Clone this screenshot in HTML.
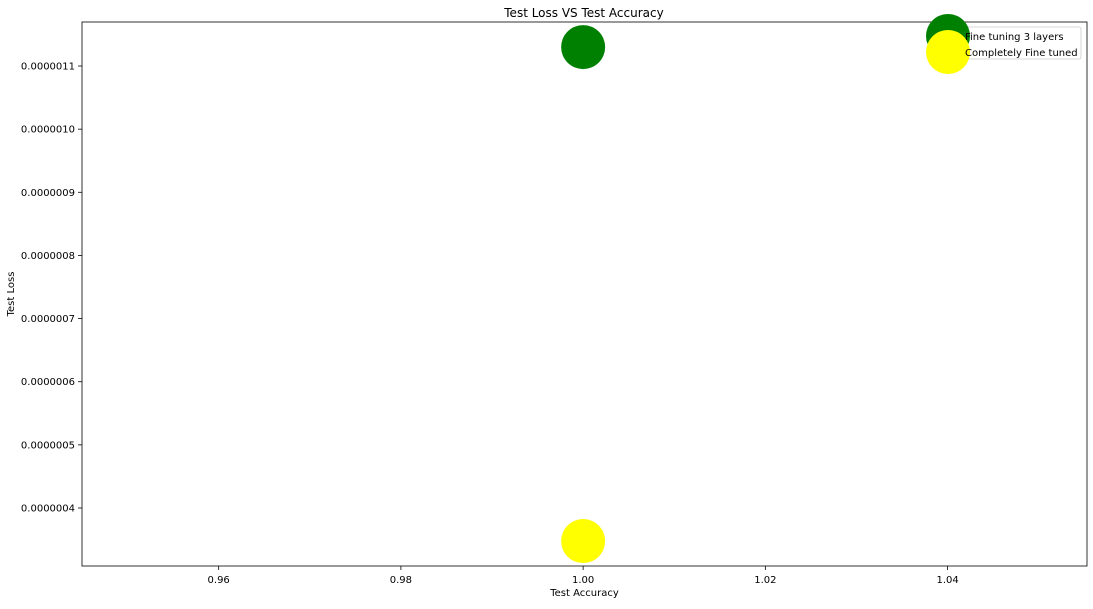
<!DOCTYPE html>
<html><head><meta charset="utf-8"><style>
body{margin:0;background:#fff;}
text{font-family:"DejaVu Sans","Liberation Sans",sans-serif;fill:#000;}
</style></head><body>
<svg id="chart" width="1093" height="604" xmlns="http://www.w3.org/2000/svg"></svg>
<script>
const seriesNames=["Fine tuning 3 layers","Completely Fine tuned"];
const seriesColors=["green","yellow"];
const accuracies=[1.0,1.0];
const losses=[1.130e-6,3.477e-7];
const xTicks=[0.96,0.98,1.00,1.02,1.04];
const xTickLabels=["0.96","0.98","1.00","1.02","1.04"];
const yTicks=[4e-7,5e-7,6e-7,7e-7,8e-7,9e-7,1e-6,1.1e-6];
const yTickLabels=["0.0000004","0.0000005","0.0000006","0.0000007","0.0000008","0.0000009","0.0000010","0.0000011"];
const L=82,R=1087,T=22,B=566;
const x0=0.945,x1=1.0553,y0=3.0814e-7,y1=1.1697e-6;
const sx=v=>L+(v-x0)/(x1-x0)*(R-L);
const sy=v=>B-(v-y0)/(y1-y0)*(B-T);
const svg=document.getElementById('chart');
const NS="http://www.w3.org/2000/svg";
function mk(t,a,p){const e=document.createElementNS(NS,t);for(const k in a)e.setAttribute(k,a[k]);(p||svg).appendChild(e);return e;}
let t=mk('text',{x:584,y:17,'text-anchor':'middle','font-size':12});t.textContent="Test Loss VS Test Accuracy";


xTicks.forEach((v,i)=>{const x=sx(v);
 const l=mk('line',{x1:x,x2:x,y1:B,y2:B+4,stroke:'#000','stroke-width':0.8});
 
 
 const tx=mk('text',{x:x,y:B+17,'text-anchor':'middle','font-size':10});tx.textContent=xTickLabels[i];
 
 
});
yTicks.forEach((v,i)=>{const y=sy(v);
 const l=mk('line',{x1:L-4,x2:L,y1:y,y2:y,stroke:'#000','stroke-width':0.8});
 
 
 const tx=mk('text',{x:L-7,y:y+3.5,'text-anchor':'end','font-size':10});tx.textContent=yTickLabels[i];
 
 
});
let xl=mk('text',{x:(L+R)/2,y:596,'text-anchor':'middle','font-size':10});xl.textContent="Test Accuracy";


let yl=mk('text',{x:0,y:0,'text-anchor':'middle','font-size':10,transform:`translate(14,${(T+B)/2}) rotate(-90)`});yl.textContent="Test Loss";


accuracies.forEach((a,i)=>{
 const c=mk('circle',{cx:sx(a),cy:sy(losses[i]),r:22,fill:seriesColors[i]});
 
 
});
const fr=mk('rect',{x:L,y:T,width:R-L,height:B-T,fill:'none',stroke:'#000','stroke-width':0.8});


const lg=mk('rect',{x:940,y:27,width:141,height:32,fill:'#fff',stroke:'#ccc','stroke-width':0.8,rx:2});


seriesNames.forEach((n,i)=>{
 const y=36+i*16;
 const c=mk('circle',{cx:948,cy:y,r:22,fill:seriesColors[i]});
 
 
});
seriesNames.forEach((n,i)=>{
 const y=36+i*16;
 const tx=mk('text',{x:965,y:y+4,'font-size':10});tx.textContent=n;
 
 
});
</script>
</body></html>
